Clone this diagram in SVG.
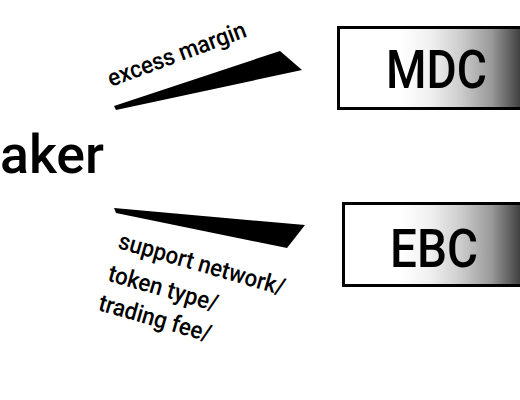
<svg xmlns="http://www.w3.org/2000/svg" width="520" height="400" viewBox="0 0 520 400">
<defs>
<linearGradient id="g1" gradientUnits="userSpaceOnUse" x1="400" y1="0" x2="522" y2="0">
<stop offset="0" stop-color="#ffffff"/>
<stop offset="0.25" stop-color="#f0f0f0"/>
<stop offset="0.5" stop-color="#cccccc"/>
<stop offset="0.75" stop-color="#999999"/>
<stop offset="1" stop-color="#3a3a3a"/>
</linearGradient>
<style>
.box{stroke:#000;stroke-width:3;fill:url(#g1)}
.big{font-family:Roboto,"Liberation Sans",sans-serif;font-weight:500;font-size:54px;fill:#000}
.lbl{font-family:Roboto,"Liberation Sans",sans-serif;font-weight:500;font-size:24px;fill:#000}
.wedge{fill:#000}
</style>
</defs>
<rect width="520" height="400" fill="#fff"/>
<g id="maker">
<text class="big" x="104" y="173" text-anchor="end" font-size="57" textLength="104" lengthAdjust="spacingAndGlyphs">aker</text>
</g>
<g id="mdc">
<rect class="box" x="338.5" y="27.5" width="190" height="81"/>
<text class="big" x="386" y="88" textLength="101" lengthAdjust="spacingAndGlyphs">MDC</text>
</g>
<g id="ebc">
<rect class="box" x="343.5" y="203.5" width="190" height="82"/>
<text class="big" x="390" y="267" textLength="88" lengthAdjust="spacingAndGlyphs">EBC</text>
</g>
<g id="connectors">
<polygon class="wedge" points="114,106 280,51 302,70 116,110"/>
<text class="lbl" transform="translate(111,87) rotate(-20.3)" textLength="146" lengthAdjust="spacingAndGlyphs">excess margin</text>
<polygon class="wedge" points="114,208 305,225 287,248 116,213"/>
<text class="lbl" transform="translate(117,248) rotate(16)"><tspan x="0" y="0" textLength="172" lengthAdjust="spacingAndGlyphs">support network/</tspan><tspan x="-1" y="34" textLength="113" lengthAdjust="spacingAndGlyphs">token type/</tspan><tspan x="-2" y="65" textLength="116" lengthAdjust="spacingAndGlyphs">trading fee/</tspan></text>
</g>
</svg>
